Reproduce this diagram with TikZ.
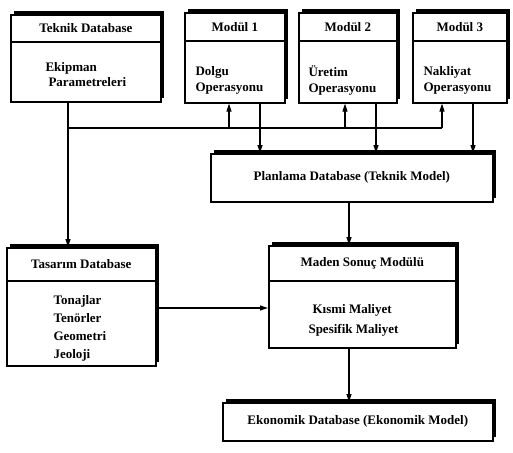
\documentclass[tikz,border=0pt]{standalone}
\usepackage{fontspec}
\setmainfont{Liberation Serif}
\usetikzlibrary{arrows.meta,shadows}

\tikzset{
  box/.style={draw, line width=1.6pt, fill=white, anchor=north west,
    general shadow={fill=black, shadow xshift=3.5pt, shadow yshift=3.5pt}},
  hdr/.style={draw, line width=1.6pt, anchor=north, font=\fontsize{13}{15}\selectfont\bfseries},
  txt/.style={align=left, anchor=west, font=\fontsize{13}{15}\selectfont\bfseries},
  arr/.style={-{Triangle[length=8pt,width=5pt]}, line width=1.2pt},
  ln/.style={line width=1.2pt}
}

\begin{document}
\begin{tikzpicture}[x=1pt,y=-1pt]
\useasboundingbox (0,0) rectangle (513,452);

% upper row
\node[box, minimum width=150pt, minimum height=87pt] (teknik) at (10,14) {};
\node[hdr, minimum width=150pt, minimum height=27pt] (teknikhdr) at (teknik.north) {Teknik Database};
\node[txt] (teknikbody) at (42,75) {Ekipman\\[0pt]\hspace{3pt}Parametreleri};

\node[box, minimum width=100pt, minimum height=90pt] (mod1) at (184,12) {};
\node[hdr, minimum width=100pt, minimum height=28pt] (mod1hdr) at (mod1.north) {Modül 1};
\node[txt] (mod1body) at (192,80) {Dolgu\\[1pt]Operasyonu};

\node[box, minimum width=98pt, minimum height=90pt] (mod2) at (298,12) {};
\node[hdr, minimum width=98pt, minimum height=28pt] (mod2hdr) at (mod2.north) {Modül 2};
\node[txt] (mod2body) at (305,80) {Üretim\\[1pt]Operasyonu};

\node[box, minimum width=94pt, minimum height=90pt] (mod3) at (412,12) {};
\node[hdr, minimum width=94pt, minimum height=28pt] (mod3hdr) at (mod3.north) {Modül 3};
\node[txt] (mod3body) at (420,80) {Nakliyat\\[1pt]Operasyonu};

% middle
\node[box, minimum width=282pt, minimum height=48pt] (plan) at (210,153) {};
\node[txt, anchor=center] (planbody) at (plan.center) {Planlama Database (Teknik Model)};

\node[box, minimum width=149pt, minimum height=118pt] (tasarim) at (6,247) {};
\node[hdr, minimum width=149pt, minimum height=33pt] (tasarimhdr) at (tasarim.north) {Tasarım Database};
\node[txt] (tasarimbody) at (50,328) {Tonajlar\\[3pt]Tenörler\\[3pt]Geometri\\[3pt]Jeoloji};

\node[box, minimum width=187pt, minimum height=102pt] (maden) at (268,245) {};
\node[hdr, minimum width=187pt, minimum height=35pt] (madenhdr) at (maden.north) {Maden Sonuç Modülü};
\node[txt] (madenbody) at (305,320) {\hspace{4pt}Kısmi Maliyet\\[5pt]Spesifik Maliyet};

% bottom
\node[box, minimum width=270pt, minimum height=38pt] (ekon) at (222,402) {};
\node[txt, anchor=center] (ekonbody) at (ekon.center) {Ekonomik Database (Ekonomik Model)};

% connectors
\coordinate (jl) at (68,128);
\coordinate (u1) at (229,128);
\coordinate (d1) at (260,128);
\coordinate (u2) at (345,128);
\coordinate (d2) at (376,128);
\coordinate (u3) at (442,128);
\coordinate (d3) at (473,128);
\coordinate (mid) at (349,0);
\coordinate (side) at (0,308);

\draw[arr] (jl |- teknik.south) -- (jl |- tasarim.north);
\draw[ln] (jl) -- (u3);
\draw[arr] (u1) -- (u1 |- mod1.south);
\draw[arr] (u2) -- (u2 |- mod2.south);
\draw[arr] (u3) -- (u3 |- mod3.south);
\draw[arr] (d1 |- mod1.south) -- (d1 |- plan.north);
\draw[arr] (d2 |- mod2.south) -- (d2 |- plan.north);
\draw[arr] (d3 |- mod3.south) -- (d3 |- plan.north);
\draw[arr] (mid |- plan.south) -- (mid |- maden.north);
\draw[arr] (tasarim.east |- side) -- (maden.west |- side);
\draw[arr] (mid |- maden.south) -- (mid |- ekon.north);
\end{tikzpicture}
\end{document}
